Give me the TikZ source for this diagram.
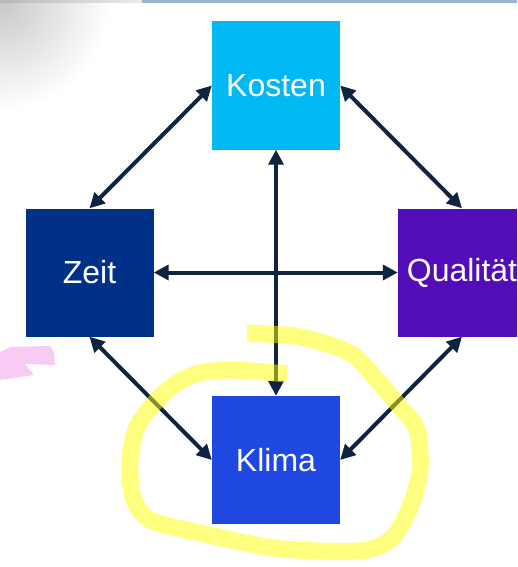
\documentclass[tikz,border=0pt]{standalone}
\usepackage{fontspec}
\setmainfont{Liberation Sans}
\usetikzlibrary{arrows.meta}
\definecolor{kostenblau}{HTML}{00B9F2}
\definecolor{zeitblau}{HTML}{003189}
\definecolor{qualilila}{HTML}{520DB9}
\definecolor{klimablau}{HTML}{1F48E2}
\definecolor{pfeil}{HTML}{0E2440}
\definecolor{leiste}{HTML}{97B5D3}
\definecolor{marker}{HTML}{FFFF00}
\definecolor{rosa}{HTML}{F9CBF4}

\begin{document}
\begin{tikzpicture}[x=1pt, y=-1pt,
    box/.style = {minimum width=128pt, minimum height=128pt, inner sep=0pt, text=white, font=\fontsize{32}{38}\selectfont},
    link/.style = {line width=4pt, draw=pfeil, {Triangle[length=15pt,width=15pt]}-{Triangle[length=15pt,width=15pt]}}]
    \useasboundingbox (0,0) rectangle (517,567);
    \clip (0,0) rectangle (517,567);
    % screenshot rest
    \shade[inner color=black!22, outer color=white] (0,0) circle (110);
    \fill[left color=black!28, right color=black!8] (0,0) rectangle (142,3);
    \fill[leiste] (142,0) rectangle (517,3);
    \fill[rosa] (0,352) -- (10,347) -- (50,346) -- (54,352) -- (55,365) -- (25,364) -- (34,375) -- (0,380) -- cycle;
    % boxes
    \node[box, fill=kostenblau] (kosten) at (276,85.5) {Kosten};
    \node[box, fill=zeitblau] (zeit) at (89.5,272.5) {Zeit};
    \node[box, fill=qualilila] (quali) at (462,272.5) {Qualität};
    \node[box, fill=klimablau] (klima) at (276,460) {Klima};
    % arrows
    \draw[link] (kosten.west) -- (zeit.north);
    \draw[link] (kosten.east) -- (quali.north);
    \draw[link] (kosten.south) -- (klima.north);
    \draw[link] (zeit.east) -- (quali.west);
    \draw[link] (zeit.south) -- (klima.west);
    \draw[link] (quali.south) -- (klima.east);
    % highlighter
    \draw[marker, opacity=0.5, line width=17pt] plot[smooth] coordinates {(247,333) (300,337) (350,353) (377,380) (400,407) (417,430) (420,470) (410,507) (393,537) (367,550) (317,551) (267,547) (200,533) (150,520) (133,497) (130,460) (137,427) (157,400) (177,383) (200,373) (233,370) (287,374)};
\end{tikzpicture}
\end{document}
